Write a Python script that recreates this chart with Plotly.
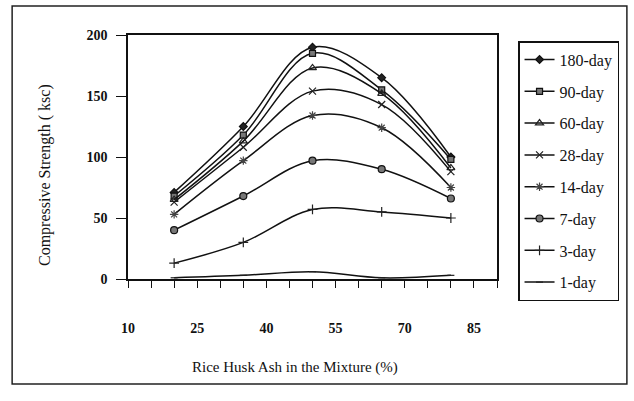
import plotly.graph_objects as go

rha_pct = [20, 35, 50, 65, 80]
series_names = ["180-day", "90-day", "60-day", "28-day", "14-day", "7-day", "3-day", "1-day"]
s180 = [71, 125, 190, 165, 100]
s90 = [68, 118, 185, 155, 98]
s60 = [65, 113, 173, 152, 91]
s28 = [63, 108, 154, 143, 88]
s14 = [53, 97, 134, 124, 75]
s7 = [40, 68, 97, 90, 66]
s3 = [13, 30, 57, 55, 50]
s1 = [1, 3, 6, 1, 3]
x_tick_vals = [10, 25, 40, 55, 70, 85]
y_tick_vals = [0, 50, 100, 150, 200]
x_title = "Rice Husk Ash in the Mixture (%)"
y_title = "Compressive Strength ( ksc)"

values = [s180, s90, s60, s28, s14, s7, s3, s1]
symbols = ["diamond", "square", "triangle-up-open", "x-thin-open", "asterisk-open",
           "circle", "cross-thin-open", "line-ew-open"]
mcolors = ["#222", "#777", "#222", "#222", "#444", "#777", "#222", "#222"]
msizes = [6, 6, 7, 7, 7, 7, 7, 5]

SERIF = "Liberation Serif, Times New Roman, serif"

fig = go.Figure()
for name, ys, sym, mc, ms in zip(series_names, values, symbols, mcolors, msizes):
    fig.add_trace(go.Scatter(
        x=rha_pct, y=ys, name=name, mode="lines+markers",
        legendgroup=name,
        line=dict(color="#111", width=1.5, shape="spline", smoothing=1.0),
        marker=dict(symbol=sym, size=ms, color=mc,
                    line=dict(color="#111", width=1.2)),
    ))

fig.update_layout(
    width=634, height=401,
    margin=dict(l=128, r=137, t=35, b=122),
    paper_bgcolor="white", plot_bgcolor="white",
    font=dict(family=SERIF, color="#111", size=13),
    showlegend=True,
    legend=dict(
        x=1.057, y=0.975, xanchor="left", yanchor="top",
        bordercolor="#111", borderwidth=1.5,
        font=dict(family=SERIF, size=16, color="#111"),
        tracegroupgap=8,
        itemwidth=30,
        maxheight=320,
    ),
    xaxis=dict(
        range=[10, 90], showgrid=False, zeroline=False,
        tickmode="array", tickvals=x_tick_vals,
        ticks="outside", ticklen=7, tickcolor="#111", tickwidth=1.3,
        minor=dict(dtick=5, tick0=10, ticks="outside", ticklen=7,
                   tickcolor="#111", tickwidth=1.3, showgrid=False),
        ticklabelstandoff=28,
        tickfont=dict(family=SERIF, size=14, color="#111", weight="bold"),
        showline=True, linecolor="#111", linewidth=1.5, mirror=True,
    ),
    yaxis=dict(
        range=[0, 200], showgrid=False, zeroline=False,
        tickmode="array", tickvals=y_tick_vals,
        ticks="outside", ticklen=10, tickcolor="#111", tickwidth=1.3,
        tickfont=dict(family=SERIF, size=14, color="#111", weight="bold"),
        ticklabelstandoff=6,
        showline=True, linecolor="#111", linewidth=1.5, mirror=True,
    ),
)

# axis titles placed as in the reference
fig.add_annotation(text=x_title, xref="paper", yref="paper",
                   x=(295 - 128) / 369, y=(279 - 367) / 244,
                   xanchor="center", yanchor="middle", showarrow=False,
                   font=dict(family=SERIF, size=15, color="#111"))
fig.add_annotation(text=y_title, xref="paper", yref="paper",
                   x=(45 - 128) / 369, y=(279 - 175) / 244, textangle=-90,
                   xanchor="center", yanchor="middle", showarrow=False,
                   font=dict(family=SERIF, size=16, color="#111"))

# outer frame around the whole figure
fig.add_shape(type="rect", xref="paper", yref="paper",
              x0=-0.314, x1=1.352, y0=-0.430, y1=1.119,
              line=dict(color="#222", width=1.5))

fig.write_html("out.html")
